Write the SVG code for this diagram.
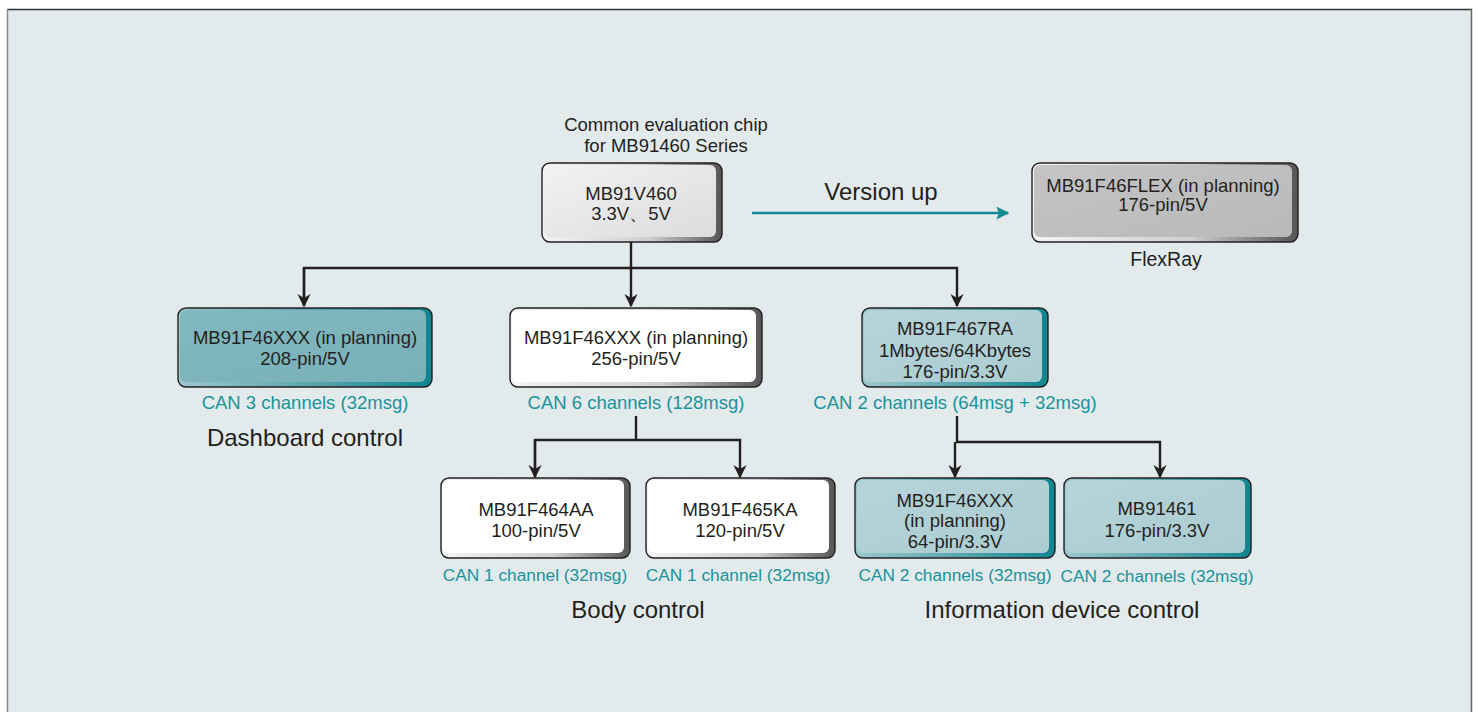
<svg xmlns="http://www.w3.org/2000/svg" width="1478" height="712" viewBox="0 0 1478 712">
<defs>
<linearGradient id="edgeGray" x1="0" y1="0" x2="1" y2="0">
<stop offset="0" stop-color="#f4f4f4"/><stop offset="0.6" stop-color="#cfcfcf"/><stop offset="1" stop-color="#555"/>
</linearGradient>
<linearGradient id="edgeTeal" x1="0" y1="0" x2="1" y2="0">
<stop offset="0" stop-color="#9cc7cd"/><stop offset="0.6" stop-color="#4fa0a9"/><stop offset="1" stop-color="#0f858f"/>
</linearGradient>
<linearGradient id="fillLight" x1="0" y1="0" x2="1" y2="1">
<stop offset="0" stop-color="#f2f2f2"/><stop offset="1" stop-color="#dcdcdc"/>
</linearGradient>
<linearGradient id="fillGray" x1="0" y1="0" x2="1" y2="1">
<stop offset="0" stop-color="#c4c4c4"/><stop offset="1" stop-color="#b9b9b9"/>
</linearGradient>
<linearGradient id="fillDark" x1="0" y1="0" x2="1" y2="1">
<stop offset="0" stop-color="#82b8bf"/><stop offset="1" stop-color="#79b1b9"/>
</linearGradient>
<linearGradient id="fillPale" x1="0" y1="0" x2="1" y2="1">
<stop offset="0" stop-color="#b6d3d8"/><stop offset="1" stop-color="#abcdd2"/>
</linearGradient>
<marker id="ah" viewBox="0 0 10 10" refX="9" refY="5" markerWidth="5.5" markerHeight="5.5" orient="auto">
<path d="M0,0 L10,5 L0,10 L3,5 z" fill="#231f20"/>
</marker>
<marker id="ahT" viewBox="0 0 10 10" refX="9" refY="5" markerWidth="5" markerHeight="5" orient="auto">
<path d="M0,0 L10,5 L0,10 L2,5 z" fill="#138b95"/>
</marker>
</defs>
<style>
text{font-family:"Liberation Sans",Arial,sans-serif;fill:#231f20;text-anchor:middle}
.n{font-size:18.5px}
.can{font-size:18.5px;fill:#1a939b}
.cs{font-size:17.3px;fill:#1a939b}
.grp{font-size:24px}
.out{stroke:#231f20;stroke-width:1.4}
.conn{fill:none;stroke:#231f20;stroke-width:2.4}
</style>
<rect x="7" y="9" width="1465" height="710" fill="#e2eaec"/>
<line x1="7" y1="9.5" x2="1472" y2="9.5" stroke="#333" stroke-width="1.5"/>
<line x1="7.5" y1="9" x2="7.5" y2="712" stroke="#888" stroke-width="1.5"/>
<line x1="1471.5" y1="9" x2="1471.5" y2="712" stroke="#666" stroke-width="1.5"/>

<g id="connectors">
<polyline class="conn" points="631,242 631,306" marker-end="url(#ah)"/>
<polyline class="conn" points="304,306 304,268 957,268 957,306" marker-end="url(#ah)"/>
<line class="conn" x1="304" y1="268" x2="304" y2="306" marker-end="url(#ah)"/>
<polyline class="conn" points="636,416 636,440"/>
<polyline class="conn" points="535,477 535,440 740,440 740,477" marker-end="url(#ah)"/>
<line class="conn" x1="535" y1="440" x2="535" y2="477" marker-end="url(#ah)"/>
<polyline class="conn" points="957,416 957,442 1160,442 1160,477" marker-end="url(#ah)"/>
<line class="conn" x1="955" y1="442" x2="955" y2="477" marker-end="url(#ah)"/>
<line x1="752" y1="213" x2="1008" y2="213" stroke="#138b95" stroke-width="2.6" marker-end="url(#ahT)"/>
<text x="881" y="200" class="grp">Version up</text>
</g>

<g id="title">
<text x="666" y="131" class="n">Common evaluation chip</text>
<text x="666" y="152" class="n">for MB91460 Series</text>
</g>

<g id="n-v460">
<rect x="542" y="163" width="180" height="79" rx="8" fill="url(#edgeGray)" class="out"/>
<rect x="544" y="165" width="172" height="72" rx="6" fill="url(#fillLight)"/>
<text x="631" y="200" class="n">MB91V460</text>
<text x="631" y="220" class="n">3.3V、5V</text>
</g>

<g id="n-flex">
<rect x="1032" y="163" width="266" height="79" rx="8" fill="url(#edgeGray)" class="out"/>
<rect x="1034" y="165" width="258" height="72" rx="6" fill="url(#fillGray)"/>
<text x="1163" y="192" class="n">MB91F46FLEX (in planning)</text>
<text x="1163" y="211" class="n">176-pin/5V</text>
<text x="1166" y="266" font-size="19.5">FlexRay</text>
</g>

<g id="n-dash">
<rect x="178" y="308" width="254" height="79" rx="8" fill="url(#edgeTeal)" class="out"/>
<rect x="180" y="310" width="246" height="72" rx="6" fill="url(#fillDark)"/>
<text x="305" y="344" class="n">MB91F46XXX (in planning)</text>
<text x="305" y="365" class="n">208-pin/5V</text>
<text x="305" y="409" class="can">CAN 3 channels (32msg)</text>
<text x="305" y="446" class="grp">Dashboard control</text>
</g>

<g id="n-body">
<rect x="510" y="308" width="252" height="79" rx="8" fill="url(#edgeGray)" class="out"/>
<rect x="512" y="310" width="244" height="72" rx="6" fill="#ffffff"/>
<text x="636" y="344" class="n">MB91F46XXX (in planning)</text>
<text x="636" y="365" class="n">256-pin/5V</text>
<text x="636" y="409" class="can">CAN 6 channels (128msg)</text>
</g>

<g id="n-467">
<rect x="862" y="308" width="186" height="79" rx="8" fill="url(#edgeTeal)" class="out"/>
<rect x="864" y="310" width="178" height="72" rx="6" fill="url(#fillPale)"/>
<text x="955" y="335" class="n">MB91F467RA</text>
<text x="955" y="357" class="n">1Mbytes/64Kbytes</text>
<text x="955" y="378" class="n">176-pin/3.3V</text>
<text x="955" y="409" class="can">CAN 2 channels (64msg + 32msg)</text>
</g>

<g id="n-464">
<rect x="441" y="478" width="189" height="80" rx="8" fill="url(#edgeGray)" class="out"/>
<rect x="443" y="480" width="181" height="73" rx="6" fill="#ffffff"/>
<text x="536" y="516" class="n">MB91F464AA</text>
<text x="536" y="537" class="n">100-pin/5V</text>
<text x="535" y="581" class="cs">CAN 1 channel (32msg)</text>
</g>

<g id="n-465">
<rect x="646" y="478" width="189" height="80" rx="8" fill="url(#edgeGray)" class="out"/>
<rect x="648" y="480" width="181" height="73" rx="6" fill="#ffffff"/>
<text x="740" y="516" class="n">MB91F465KA</text>
<text x="740" y="537" class="n">120-pin/5V</text>
<text x="738" y="581" class="cs">CAN 1 channel (32msg)</text>
<text x="638" y="618" class="grp">Body control</text>
</g>

<g id="n-46x">
<rect x="855" y="478" width="200" height="80" rx="8" fill="url(#edgeTeal)" class="out"/>
<rect x="857" y="480" width="192" height="73" rx="6" fill="url(#fillPale)"/>
<text x="955" y="507" class="n">MB91F46XXX</text>
<text x="955" y="527" class="n">(in planning)</text>
<text x="955" y="548" class="n">64-pin/3.3V</text>
<text x="955" y="581" class="cs">CAN 2 channels (32msg)</text>
</g>

<g id="n-461">
<rect x="1064" y="478" width="187" height="80" rx="8" fill="url(#edgeTeal)" class="out"/>
<rect x="1066" y="480" width="179" height="73" rx="6" fill="url(#fillPale)"/>
<text x="1157" y="515" class="n">MB91461</text>
<text x="1157" y="537" class="n">176-pin/3.3V</text>
<text x="1157" y="582" class="cs">CAN 2 channels (32msg)</text>
<text x="1062" y="618" class="grp">Information device control</text>
</g>
</svg>
